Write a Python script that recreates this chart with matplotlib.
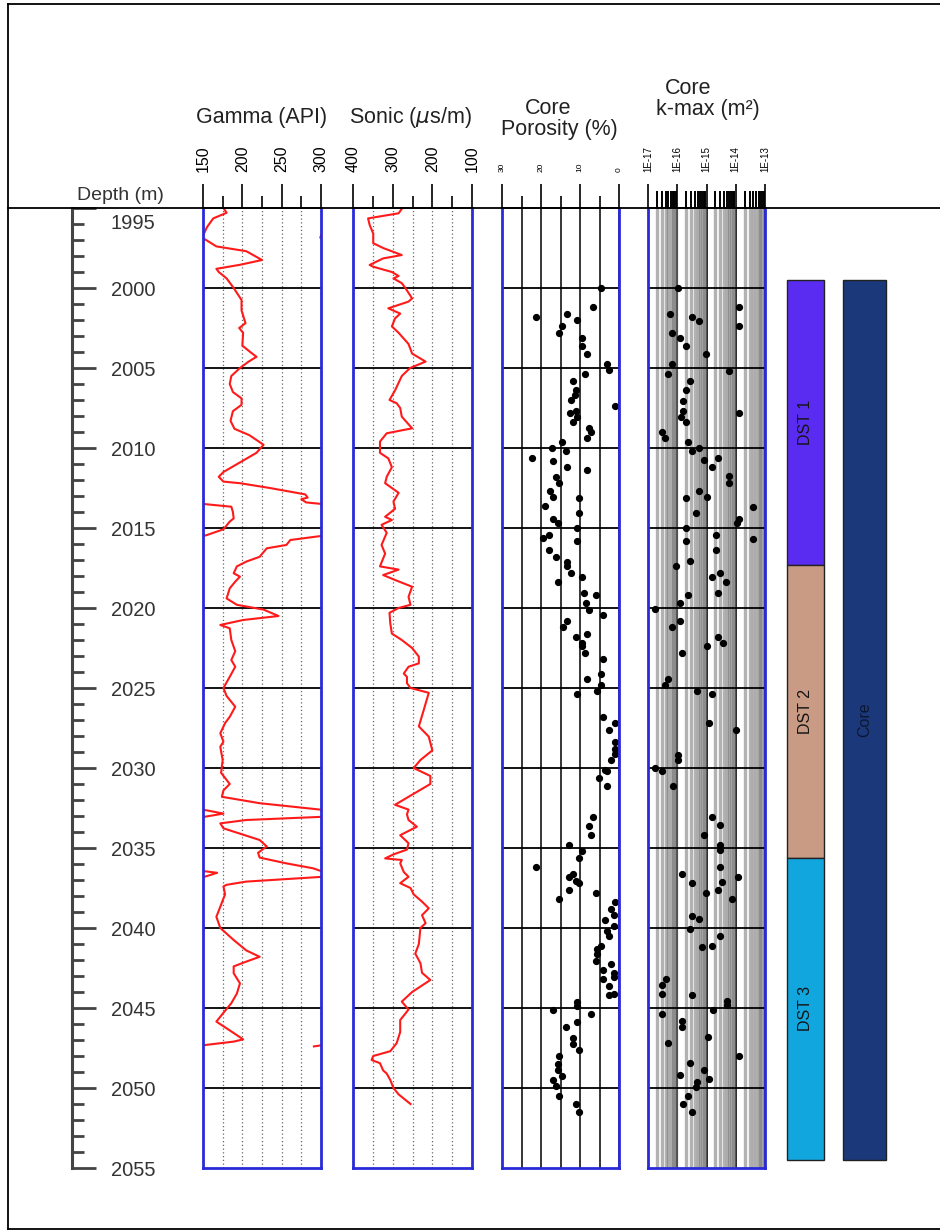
import numpy as np
import matplotlib.pyplot as plt
from matplotlib.lines import Line2D
from matplotlib.transforms import ScaledTranslation

# fonts - Arial like
plt.rcParams['font.family'] = ['Liberation Sans', 'DejaVu Sans']

# ---------------- data read from the log ----------------
# gamma ray log (depth m, API)
gamma_depth = [1995.0, 1995.3, 1995.65, 1996.2, 1996.85, 1997.4, 1997.7, 1998.25,
               1998.55, 1998.8, 1999.0, 1999.4, 2000.0, 2000.75, 2001.4, 2002.2,
               2002.5, 2002.8, 2003.6, 2004.0, 2004.3, 2004.6, 2005.0, 2005.5,
               2006.0, 2006.5, 2006.9, 2007.3, 2007.7, 2008.3, 2008.8, 2009.2,
               2009.8, 2010.3, 2010.9, 2011.5, 2011.8, 2012.1, 2012.2, 2012.5,
               2012.9, 2013.1, 2013.2, 2013.4, 2013.5, 2013.67, 2014.0, 2014.4,
               2014.6, 2015.08, 2015.44, 2015.5, 2015.75, 2016.06, 2016.27, 2016.8,
               2017.1, 2017.4, 2017.83, 2018.04, 2018.35, 2018.77, 2019.4, 2019.8,
               2020.1, 2020.5, 2020.75, 2021.06, 2021.27, 2022.0, 2022.7, 2023.25,
               2023.67, 2024.3, 2025.0, 2025.5, 2026.17, 2026.8, 2027.2, 2027.83,
               2028.35, 2028.67, 2029.5, 2030.3, 2031.0, 2031.4, 2031.8, 2032.2,
               2032.6, 2032.65, 2032.85, 2033.05, 2033.25, 2033.46, 2033.77, 2034.5,
               2034.9, 2035.3, 2035.6, 2035.96, 2036.27, 2036.44, 2036.55, 2036.8,
               2037.1, 2037.3, 2037.4, 2037.9, 2038.67, 2039.3, 2040.0, 2040.75,
               2041.4, 2041.8, 2042.1, 2042.4, 2042.83, 2043.46, 2044.1, 2044.7,
               2045.3, 2045.85, 2046.4, 2046.96, 2047.1, 2047.3, 2047.4]
gamma_api = [176, 180, 163, 155, 149, 167, 205, 225,
             197, 167, 170, 180, 189, 199, 199, 204,
             196, 201, 200, 210, 218, 208, 197, 186,
             184, 188, 199, 199, 188, 185, 190, 209,
             227, 218, 197, 176, 170, 176, 197, 235,
             280, 283, 275, 281, 301, 336, 338, 339,
             334, 326, 305, 300, 261, 256, 231, 222,
             205, 193, 189, 197, 191, 184, 180, 193,
             227, 246, 201, 172, 184, 186, 191, 186,
             191, 184, 176, 180, 191, 184, 178, 172,
             176, 172, 175, 173, 184, 176, 174, 222,
             299, 305, 326, 302, 205, 172, 176, 222,
             231, 220, 222, 256, 290, 300, 318, 302,
             205, 180, 176, 178, 172, 167, 172, 189,
             205, 222, 205, 189, 189, 197, 193, 186,
             176, 167, 184, 201, 189, 155, 141]

# sonic log (depth m, us/m)
sonic_depth = [1995.05, 1995.33, 1995.65, 1996.06, 1996.6, 1997.2, 1997.5, 1997.94,
               1998.15, 1998.56, 1998.67, 1999.0, 1999.25, 1999.4, 1999.7, 2000.0,
               2000.65, 2000.85, 2001.27, 2001.6, 2001.9, 2002.4, 2002.8, 2003.5,
               2004.1, 2004.6, 2005.0, 2005.5, 2006.4, 2007.0, 2007.2, 2007.5,
               2008.04, 2008.77, 2009.08, 2009.6, 2010.3, 2010.65, 2011.2, 2011.8,
               2012.2, 2012.8, 2013.35, 2013.8, 2014.3, 2014.5, 2014.8, 2015.3,
               2016.06, 2016.6, 2017.4, 2017.6, 2017.94, 2018.25, 2018.67, 2019.3,
               2019.8, 2020.0, 2020.3, 2020.96, 2021.6, 2022.0, 2022.5, 2023.04,
               2023.46, 2023.67, 2024.1, 2024.3, 2024.7, 2025.0, 2025.3, 2026.4,
               2027.4, 2028.04, 2028.9, 2029.5, 2030.0, 2030.5, 2031.0, 2031.8,
               2032.3, 2032.6, 2032.9, 2033.25, 2033.67, 2034.2, 2034.7, 2035.1,
               2035.4, 2035.65, 2035.75, 2035.96, 2036.5, 2036.8, 2037.2, 2037.5,
               2037.9, 2038.35, 2038.77, 2039.2, 2039.7, 2040.0, 2041.0, 2041.6,
               2042.2, 2042.8, 2043.25, 2044.0, 2044.6, 2045.1, 2045.75, 2046.5,
               2047.2, 2047.7, 2048.0, 2048.25, 2048.45, 2048.9, 2049.1, 2049.5,
               2050.0, 2050.4, 2051.0]
sonic_dt = [277, 285, 362, 358, 349, 349, 324, 277,
            324, 358, 349, 302, 285, 298, 277, 268,
            251, 260, 311, 281, 294, 302, 285, 260,
            251, 217, 256, 277, 294, 308, 290, 281,
            277, 251, 315, 332, 332, 311, 302, 315,
            319, 285, 298, 294, 319, 302, 328, 315,
            328, 319, 332, 285, 324, 294, 251, 260,
            255, 285, 308, 306, 302, 277, 251, 234,
            234, 260, 272, 264, 264, 255, 209, 222,
            234, 209, 200, 230, 247, 205, 205, 260,
            294, 260, 264, 260, 239, 281, 260, 264,
            298, 319, 277, 281, 272, 260, 281, 255,
            247, 226, 209, 226, 217, 230, 234, 243,
            230, 226, 205, 251, 277, 260, 281, 281,
            290, 306, 349, 353, 332, 324, 315, 306,
            298, 285, 255]

# core porosity samples (depth m, %)
por_depth = [2000.0, 2001.17, 2001.65, 2001.8, 2002.0, 2002.4, 2002.8, 2003.15,
             2003.6, 2004.15, 2004.77, 2005.1, 2005.4, 2005.8, 2006.4, 2006.7,
             2007.0, 2007.4, 2007.7, 2007.8, 2008.04, 2008.4, 2008.77, 2009.0,
             2009.4, 2009.65, 2010.0, 2010.2, 2010.65, 2010.8, 2011.2, 2011.4,
             2011.8, 2012.2, 2012.7, 2013.04, 2013.15, 2013.6, 2014.04, 2014.46,
             2014.67, 2015.0, 2015.44, 2015.65, 2015.8, 2016.4, 2016.8, 2017.1,
             2017.4, 2017.8, 2018.04, 2018.4, 2019.04, 2019.2, 2019.67, 2020.1,
             2020.44, 2020.8, 2021.17, 2021.6, 2021.8, 2022.2, 2022.4, 2022.8,
             2023.2, 2024.1, 2024.46, 2024.8, 2025.2, 2025.4, 2026.8, 2027.2,
             2027.6, 2028.4, 2028.8, 2029.1, 2029.5, 2030.1, 2030.2, 2030.6,
             2031.1, 2033.04, 2033.6, 2034.2, 2034.8, 2035.2, 2035.6, 2036.2,
             2036.6, 2036.8, 2037.04, 2037.2, 2037.6, 2037.8, 2038.2, 2038.4,
             2038.8, 2039.2, 2039.5, 2039.9, 2040.2, 2040.5, 2041.1, 2041.3,
             2041.6, 2042.04, 2042.25, 2042.6, 2042.8, 2043.04, 2043.2, 2043.6,
             2044.1, 2044.2, 2044.6, 2044.9, 2045.1, 2045.4, 2045.85, 2046.2,
             2046.9, 2047.25, 2047.6, 2048.0, 2048.5, 2048.9, 2049.25, 2049.5,
             2049.9, 2050.5, 2051.0, 2051.5]
por_val = [4.5, 6.6, 13.3, 21.3, 10.7, 14.7, 15.3, 9.6,
           9.6, 8.2, 3.1, 2.6, 8.6, 11.7, 11.1, 11.3,
           12.2, 0.9, 11.1, 12.6, 10.7, 11.7, 7.7, 7.2,
           8.2, 14.7, 17.3, 13.6, 22.4, 16.8, 13.3, 8.2,
           16.2, 15.3, 17.8, 16.8, 10.2, 19.0, 10.2, 16.8,
           15.6, 10.7, 17.9, 19.4, 10.7, 17.9, 16.2, 13.3,
           13.3, 12.2, 9.6, 15.7, 9.0, 6.0, 8.5, 7.7,
           4.1, 13.3, 14.3, 8.2, 11.1, 9.6, 9.6, 8.6,
           4.1, 4.5, 8.2, 4.5, 5.6, 10.7, 4.1, 0.9,
           2.6, 0.9, 0.9, 0.9, 2.0, 3.7, 3.1, 5.1,
           3.1, 6.6, 7.7, 7.1, 12.8, 9.6, 10.2, 21.3,
           11.9, 12.8, 11.1, 10.2, 12.8, 6.0, 15.3, 0.9,
           2.0, 1.4, 3.7, 1.4, 3.1, 2.6, 4.5, 5.6,
           5.6, 6.0, 2.0, 4.1, 1.4, 1.4, 4.1, 2.6,
           1.4, 2.6, 10.7, 10.7, 16.8, 7.1, 10.7, 13.6,
           11.7, 11.7, 10.2, 15.3, 15.7, 15.7, 14.7, 16.8,
           16.2, 15.3, 11.1, 10.2]

# core k-max samples (depth m, log10 of permeability in m2)
k_depth = [2000.0, 2001.17, 2001.65, 2001.8, 2002.04, 2002.4, 2002.8, 2003.1,
           2003.6, 2004.15, 2004.77, 2005.2, 2005.4, 2005.8, 2006.4, 2007.04,
           2007.7, 2007.8, 2008.04, 2008.4, 2009.0, 2009.4, 2009.65, 2010.0,
           2010.2, 2010.65, 2010.75, 2011.2, 2011.75, 2012.2, 2012.7, 2013.04,
           2013.15, 2013.67, 2014.04, 2014.46, 2014.67, 2015.0, 2015.44, 2015.7,
           2015.8, 2016.4, 2017.04, 2017.4, 2017.8, 2018.04, 2018.4, 2019.04,
           2019.2, 2019.67, 2020.06, 2020.8, 2021.17, 2021.8, 2022.2, 2022.4,
           2022.8, 2024.46, 2024.8, 2025.2, 2025.4, 2027.2, 2027.6, 2029.2,
           2029.5, 2030.0, 2030.2, 2031.1, 2033.04, 2033.56, 2034.2, 2034.8,
           2035.1, 2036.2, 2036.6, 2036.83, 2037.1, 2037.2, 2037.6, 2037.8,
           2038.2, 2039.25, 2039.46, 2040.08, 2040.5, 2041.1, 2041.2, 2043.2,
           2043.56, 2044.1, 2044.2, 2044.56, 2044.8, 2045.1, 2045.4, 2045.8,
           2046.2, 2046.8, 2047.2, 2048.0, 2048.46, 2048.9, 2049.2, 2049.46,
           2049.6, 2049.96, 2050.5, 2051.0, 2051.5]
k_log = [-15.99, -13.88, -16.26, -15.5, -15.24, -13.88, -16.18, -15.92,
         -15.7, -15.03, -16.18, -14.22, -16.33, -15.58, -15.7, -15.79,
         -15.79, -13.88, -15.87, -15.7, -16.52, -16.41, -15.64, -15.24,
         -15.5, -14.6, -15.1, -14.82, -14.22, -14.22, -15.24, -14.97,
         -15.7, -13.4, -15.37, -13.88, -13.97, -15.7, -14.69, -13.4,
         -15.7, -14.69, -15.58, -16.05, -14.54, -14.82, -14.34, -14.62,
         -15.64, -15.92, -16.75, -15.92, -16.18, -14.62, -14.43, -14.97,
         -15.84, -16.33, -16.41, -15.31, -14.82, -14.9, -14.0, -15.99,
         -15.99, -16.75, -16.52, -16.13, -14.82, -14.54, -15.1, -14.54,
         -14.54, -14.54, -15.84, -13.92, -14.48, -15.5, -14.62, -15.03,
         -14.14, -15.5, -15.24, -15.58, -14.54, -14.82, -15.16, -16.39,
         -16.52, -16.52, -15.5, -14.29, -14.29, -14.77, -16.52, -15.84,
         -15.84, -14.96, -16.33, -13.88, -15.58, -15.1, -15.92, -14.9,
         -15.31, -15.37, -15.64, -15.79, -15.5]

# test / core intervals
dst_names = ['DST 1', 'DST 2', 'DST 3']
dst_top = [1999.5, 2017.3, 2035.6]
dst_base = [2017.3, 2035.6, 2054.5]
dst_colors = ['#5a2cf2', '#c99a84', '#12a6df']
core_top = 1999.5
core_base = 2054.5

# ---------------- layout (pixels) ----------------
W, H = 940, 1232
TOP, BOT = 208, 1168
BLUE = '#2a2ad8'
RED = '#ff1a1a'


def box(x0, y0, x1, y1):
    # pixel box -> figure fraction rect
    return [x0 / W, 1 - y1 / H, (x1 - x0) / W, (y1 - y0) / H]


def setup_track(ax, xmin, xmax, major, minor, labels, labelsize):
    ax.set_xlim(xmin, xmax)
    ax.set_ylim(2055, 1995)
    ax.xaxis.tick_top()
    ax.set_xticks(major)
    ax.set_xticks(minor, minor=True)
    ax.set_xticklabels(labels)
    ax.tick_params(axis='x', which='major', direction='out', length=17,
                   width=1.2, pad=9, labelsize=labelsize, labelrotation=90)
    ax.tick_params(axis='x', which='minor', direction='out', length=8.5,
                   width=1.2)
    # 5 m depth grid
    ax.set_yticks(range(2000, 2051, 5))
    ax.tick_params(axis='y', left=False, labelleft=False)
    ax.grid(axis='y', color='k', lw=1.3)
    for s in ['left', 'right', 'bottom']:
        ax.spines[s].set_color(BLUE)
        ax.spines[s].set_linewidth(2)
    ax.spines['top'].set_color('k')
    ax.spines['top'].set_linewidth(1.2)


fig = plt.figure(figsize=(W / 100, H / 100), dpi=100)

# ---- depth axis ----
ax_d = fig.add_axes(box(72, TOP, 160, BOT))
ax_d.set_ylim(2055, 1995)
ax_d.set_yticks(range(1995, 2056, 5))
ax_d.set_yticks(range(1995, 2056, 1), minor=True)
ax_d.set_xticks([])
ax_d.tick_params(axis='y', which='major', direction='in', length=17, width=2,
                 color='#444444', pad=-60, labelsize=14.5, labelcolor='#333333')
ax_d.tick_params(axis='y', which='minor', direction='in', length=8.5, width=2,
                 color='#444444')
for s in ['top', 'right', 'bottom']:
    ax_d.spines[s].set_visible(False)
ax_d.spines['left'].set_color('#444444')
ax_d.spines['left'].set_linewidth(2.2)
ax_d.patch.set_alpha(0)
# first depth label sits just under the header line
lab0 = ax_d.get_yticklabels()[0]
lab0.set_va('top')
lab0.set_transform(lab0.get_transform()
                   + ScaledTranslation(0, -4 / 72, fig.dpi_scale_trans))

# ---- gamma track ----
ax_g = fig.add_axes(box(203, TOP, 321, BOT))
setup_track(ax_g, 150, 300, [150, 200, 250, 300], [175, 225, 275],
            ['150', '200', '250', '300'], 11.5)
ax_g.grid(axis='x', which='both', color='0.4', ls=(0, (1, 2)), lw=0.9)
g = np.array(gamma_api, dtype=float)
# main trace plus the wrapped (backup) traces
ax_g.plot(g, gamma_depth, color=RED, lw=1.5)
ax_g.plot(g - 150, gamma_depth, color=RED, lw=1.5)
ax_g.plot(g + 150, gamma_depth, color=RED, lw=1.5)

# ---- sonic track ----
ax_s = fig.add_axes(box(353, TOP, 472, BOT))
setup_track(ax_s, 400, 100, [400, 300, 200, 100], [350, 250, 150],
            ['400', '300', '200', '100'], 11.5)
ax_s.grid(axis='x', which='both', color='0.4', ls=(0, (1, 2)), lw=0.9)
ax_s.plot(sonic_dt, sonic_depth, color=RED, lw=1.5)

# ---- core porosity track ----
ax_p = fig.add_axes(box(502, TOP, 619, BOT))
setup_track(ax_p, 30, 0, [30, 20, 10, 0], [25, 15, 5],
            ['30', '20', '10', '0'], 6)
ax_p.grid(axis='x', which='both', color='k', lw=1.1)
ax_p.plot(por_val, por_depth, 'o', color='k', ms=4.2, ls='none')

# ---- core k-max track ----
ax_k = fig.add_axes(box(648, TOP, 765, BOT))
ax_k.set_xscale('log')
k_minor = [m * 10.0 ** e for e in range(-17, -13) for m in range(2, 10)]
setup_track(ax_k, 1e-17, 1e-13, [1e-17, 1e-16, 1e-15, 1e-14, 1e-13], k_minor,
            ['1E-17', '1E-16', '1E-15', '1E-14', '1E-13'], 7)
ax_k.tick_params(axis='x', which='minor', length=12, width=1.4)
ax_k.grid(axis='x', which='minor', color='0.45', lw=2.4, alpha=0.55)
ax_k.grid(axis='x', which='major', color='k', lw=1.2)
ax_k.plot(10.0 ** np.array(k_log), k_depth, 'o', color='k', ms=4.2, ls='none')

# ---- DST / core bars ----
ax_b = fig.add_axes(box(780, TOP, 900, BOT))
ax_b.set_xlim(780, 900)
ax_b.set_ylim(2055, 1995)
ax_b.axis('off')
for name, t, b, c in zip(dst_names, dst_top, dst_base, dst_colors):
    ax_b.bar(805.5, b - t, bottom=t, width=37, color=c, edgecolor='#222222',
             lw=1.0)
    ax_b.text(805.5, (t + b) / 2, name, rotation=90, ha='center', va='center',
              fontsize=11.5, color='#151515')
ax_b.bar(864.5, core_base - core_top, bottom=core_top, width=43,
         color='#1b387a', edgecolor='#222222', lw=1.0)
ax_b.text(864.5, (core_top + core_base) / 2, 'Core', rotation=90,
          ha='center', va='center', fontsize=11.5, color='#0c1733')


# ---- header titles ----
def ftext(x, y, s, **kw):
    fig.text(x / W, 1 - y / H, s, ha='center', va='center', **kw)


ftext(262, 117, 'Gamma (API)', fontsize=15.5, color='#222222')
ftext(410, 117, r'Sonic ($\mu$s/m)', fontsize=15.5, color='#222222')
ftext(548, 108, 'Core', fontsize=15.5, color='#222222')
ftext(559, 130, 'Porosity (%)', fontsize=15.5, color='#222222')
ftext(688, 88, 'Core', fontsize=15.5, color='#222222')
ftext(708, 110, 'k-max (m²)', fontsize=15.5, color='#222222')
ftext(120, 196, 'Depth (m)', fontsize=14, color='#333333')

# header line and outer frame
fig.add_artist(Line2D([8 / W, 1], [1 - TOP / H] * 2, color='k', lw=1.3))
fig.add_artist(Line2D([8 / W, 8 / W], [1 - 4 / H, 1 - 1229 / H], color='k', lw=1.3))
fig.add_artist(Line2D([8 / W, 1], [1 - 4 / H] * 2, color='k', lw=1.3))
fig.add_artist(Line2D([8 / W, 1], [1 - 1229 / H] * 2, color='k', lw=1.3))

fig.savefig('out.png', dpi=100)
